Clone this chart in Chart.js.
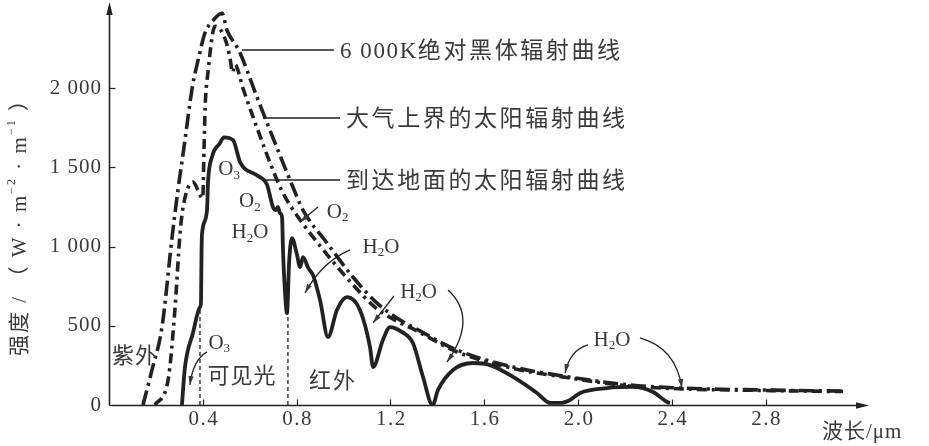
<!DOCTYPE html>
<html><head><meta charset="utf-8">
<script src="https://cdn.jsdelivr.net/npm/chart.js@4"></script>
<style>html,body{margin:0;padding:0;background:#fff}#wrap{width:929px;height:446px}</style>
</head><body><div id="wrap"><canvas id="c" width="929" height="446"></canvas></div>
<script>
// ---------------- data ----------------
const seriesNames = ['6 000K绝对黑体辐射曲线', '大气上界的太阳辐射曲线', '到达地面的太阳辐射曲线'];

const bbWave  = [0.145,0.183,0.226,0.269,0.294,0.324,0.345,0.358,0.380,0.409,0.445,0.482,0.503,0.546,0.559,0.631,0.725,0.802,0.827,0.930,1.040,1.143,1.241,1.296,1.484,1.723,1.936,2.222,2.435,2.776,3.130];
const bbValue = [0,220,492,1060,1356,1672,1905,2030,2177,2347,2430,2473,2366,2259,2222,1944,1591,1313,1231,1022,808,643,536,492,347,240,183,126,107,95,88];

const toaWave  = [0.196,0.252,0.281,0.303,0.316,0.358,0.400,0.405,0.410,0.422,0.452,0.475,0.500,0.516,0.527,0.537,0.571,0.631,0.700,0.742,0.800,0.930,1.040,1.140,1.240,1.300,1.480,1.720,1.940,2.220,2.440,2.780,3.130];
const toaValue = [0,158,600,1085,1250,1407,1306,1609,1880,2100,2390,2370,2290,2190,2100,2150,2000,1750,1480,1338,1200,950,760,610,520,478,338,232,176,120,102,92,85];

const sfcWave  = [0.311,0.324,0.358,0.388,0.392,0.395,0.397,0.418,0.422,0.439,0.473,0.490,0.529,0.560,0.631,0.674,0.699,0.712,0.720,0.729,0.738,0.742,0.750,0.759,0.768,0.780,0.800,0.815,0.827,0.850,0.870,0.900,0.934,0.972,1.015,1.070,1.113,1.126,1.168,1.198,1.250,1.296,1.339,1.380,1.403,1.467,1.552,1.625,1.723,1.825,1.881,1.923,1.966,2.009,2.124,2.235,2.320,2.380,2.392];
const sfcValue = [0,240,454,618,640,1000,1085,1230,1400,1565,1653,1690,1672,1530,1450,1390,1250,1230,1250,1211,1186,978,725,580,900,1054,960,871,934,864,820,662,429,600,681,600,366,240,410,492,460,391,177,0,95,221,265,252,177,76,13,13,32,76,107,114,82,19,13];

const visBoundWave  = [0.388, 0.763];   // 可见光 boundaries
const visBoundValue = [618, 585];

const xTickValues = [0.4, 0.8, 1.2, 1.6, 2.0, 2.4, 2.8];
const yTickValues = [0, 500, 1000, 1500, 2000];
const xMin = 0, xMax = 3.211, yMin = 0, yMax = 2500;

// ---------------- helpers ----------------
const INK = '#222';
const TXT = '#3a3a3a';
const MIX = '"Liberation Serif","Noto Sans CJK SC",serif';
const pts = (xs, ys) => xs.map((v, i) => ({x: v, y: ys[i]}));
const fmtY = v => v >= 1000 ? Math.floor(v/1000) + ' ' + String(v % 1000).padStart(3, '0') : String(v);

function arrowHead(ctx, fx, fy, tx, ty, len, hw) {
  const ang = Math.atan2(ty - fy, tx - fx);
  ctx.beginPath();
  ctx.moveTo(tx, ty);
  ctx.lineTo(tx - len*Math.cos(ang) + hw*Math.sin(ang), ty - len*Math.sin(ang) - hw*Math.cos(ang));
  ctx.lineTo(tx - len*Math.cos(ang) - hw*Math.sin(ang), ty - len*Math.sin(ang) + hw*Math.cos(ang));
  ctx.closePath(); ctx.fill();
}
// segs: [{t, size, dy, ls}]
function drawRich(ctx, segs, x, y, align, ls) {
  let w = 0;
  segs.forEach(s => { ctx.letterSpacing = (s.ls != null ? s.ls : (ls || 0)) + 'px'; ctx.font = s.size + 'px ' + MIX; s.w = ctx.measureText(s.t).width; w += s.w; });
  let cx = align === 'center' ? x - w/2 : (align === 'right' ? x - w : x);
  ctx.textAlign = 'left'; ctx.textBaseline = 'middle';
  segs.forEach(s => { ctx.letterSpacing = (s.ls != null ? s.ls : (ls || 0)) + 'px'; ctx.font = s.size + 'px ' + MIX; ctx.fillText(s.t, cx, y + (s.dy || 0)); cx += s.w; });
  ctx.letterSpacing = '0px';
}
function chem(str) { // "H_2O" -> segments
  const out = [];
  for (let i = 0; i < str.length; i++) {
    if (str[i] === '_') { out.push({t: str[i+1], size: 13, dy: 6}); i++; }
    else out.push({t: str[i], size: 21});
  }
  return out;
}
function labelSegs(name) { // split leading latin/digits from CJK text
  const m = name.match(/^([0-9 A-Za-z]*)(.*)$/);
  const out = [];
  if (m[1]) out.push({t: m[1], size: 23, ls: 1.6});
  out.push({t: m[2], size: 23, ls: 2.6});
  return out;
}

const deco = {
  id: 'deco',
  afterDraw(chart) {
    const {ctx, chartArea: a, scales: {x, y}} = chart;
    const X = v => x.getPixelForValue(v), Y = v => y.getPixelForValue(v);
    ctx.save();
    ctx.strokeStyle = INK; ctx.fillStyle = INK; ctx.lineWidth = 1.6;
    // axes with arrows
    const ax = Math.round(a.left) + 0.5, ay = Math.round(a.bottom) + 0.5;
    ctx.beginPath(); ctx.moveTo(ax, ay); ctx.lineTo(ax, a.top - 2); ctx.stroke();
    arrowHead(ctx, ax, a.top + 10, ax, a.top - 7, 13, 3.2);
    ctx.beginPath(); ctx.moveTo(ax, ay); ctx.lineTo(a.right + 2, ay); ctx.stroke();
    arrowHead(ctx, a.right - 10, ay, a.right + 7, ay, 13, 3.2);
    // ticks
    ctx.lineWidth = 1.2;
    yTickValues.forEach(v => { if (v === 0) return; const py = Math.round(Y(v)) + 0.5; ctx.beginPath(); ctx.moveTo(ax, py); ctx.lineTo(ax + 6, py); ctx.stroke(); });
    xTickValues.forEach(v => { const px = Math.round(X(v)) + 0.5; ctx.beginPath(); ctx.moveTo(px, ay); ctx.lineTo(px, ay - 6); ctx.stroke(); });
    // tick labels
    ctx.fillStyle = TXT;
    yTickValues.forEach(v => drawRich(ctx, [{t: fmtY(v), size: 21}], a.left - 7, Y(v), 'right', 1));
    xTickValues.forEach(v => drawRich(ctx, [{t: v.toFixed(1), size: 21}], X(v) + 1, a.bottom + 14, 'center', 1.5));
    // axis titles
    drawRich(ctx, [{t: '波长/μm', size: 21}], 822, a.bottom + 27, 'left', 1);
    ctx.save(); ctx.translate(20, 222); ctx.rotate(-Math.PI/2);
    drawRich(ctx, [{t: '强度 / （ W · m', size: 21}, {t: '−2', size: 12, dy: -8}, {t: ' · m', size: 21}, {t: '−1', size: 12, dy: -8}, {t: ' ）', size: 21}], 0, 0, 'center', 2);
    ctx.restore();

    // leader lines and series labels
    ctx.strokeStyle = INK; ctx.lineWidth = 1.5;
    const leaders = [[0.567, 0.959, 2241], [0.657, 0.985, 1812], [0.652, 0.985, 1420]];
    leaders.forEach((l, i) => {
      ctx.beginPath(); ctx.moveTo(X(l[0]), Y(l[2])); ctx.lineTo(X(l[1]), Y(l[2])); ctx.stroke();
      drawRich(ctx, labelSegs(seriesNames[i]), X(l[1]) + 6, Y(l[2]) + 2, 'left', 0);
    });

    // region labels
    drawRich(ctx, [{t: '紫外', size: 22}], X(0.111), Y(303), 'center', 1);
    drawRich(ctx, [{t: '可见光', size: 22}], X(0.567), Y(177), 'center', 1);
    drawRich(ctx, [{t: '红外', size: 22}], X(0.955), Y(145), 'center', 2);

    // absorption labels
    const chems = [['O_3', 0.512, 1484], ['O_2', 0.601, 1282], ['H_2O', 0.601, 1086], ['O_2', 0.975, 1218],
                   ['H_2O', 1.16, 997], ['H_2O', 1.32, 713], ['H_2O', 2.145, 410], ['O_3', 0.47, 391]];
    chems.forEach(c => drawRich(ctx, chem(c[0]), X(c[1]), Y(c[2]), 'center', 0));

    // arrows (straight / quadratic), in data units
    ctx.lineWidth = 1.3;
    const arrows = [
      [[0.891, 1250], null, [0.815, 1155]],
      [[1.028, 979], [0.908, 903], [0.836, 707]],
      [[1.215, 688], null, [1.126, 518]],
      [[1.446, 726], [1.575, 549], [1.441, 271]],
      [[2.043, 379], [1.966, 347], [1.945, 202]],
      [[2.264, 423], [2.418, 360], [2.443, 107]],
      [[0.418, 335], [0.358, 284], [0.345, 126]]
    ];
    arrows.forEach(([s, c, e]) => {
      ctx.beginPath(); ctx.moveTo(X(s[0]), Y(s[1]));
      if (c) ctx.quadraticCurveTo(X(c[0]), Y(c[1]), X(e[0]), Y(e[1])); else ctx.lineTo(X(e[0]), Y(e[1]));
      ctx.stroke();
      const f = c || s;
      arrowHead(ctx, X(f[0]), Y(f[1]), X(e[0]), Y(e[1]), 9, 2.6);
    });
    ctx.restore();
  }
};

new Chart(document.getElementById('c'), {
  type: 'line',
  data: {
    datasets: [
      {label: seriesNames[0], data: pts(bbWave, bbValue), borderColor: INK, borderWidth: 3.6, borderDash: [15, 5, 3, 5], cubicInterpolationMode: 'monotone', pointRadius: 0, fill: false},
      {label: seriesNames[1], data: pts(toaWave, toaValue), borderColor: INK, borderWidth: 3.6, borderDash: [10, 5, 3, 5], cubicInterpolationMode: 'monotone', pointRadius: 0, fill: false},
      {label: seriesNames[2], data: pts(sfcWave, sfcValue), borderColor: INK, borderWidth: 3.8, cubicInterpolationMode: 'monotone', pointRadius: 0, fill: false},
      {label: 'b1', data: [{x: visBoundWave[0], y: 0}, {x: visBoundWave[0], y: visBoundValue[0]}], borderColor: INK, borderWidth: 1.3, borderDash: [4, 3], pointRadius: 0},
      {label: 'b2', data: [{x: visBoundWave[1], y: 0}, {x: visBoundWave[1], y: visBoundValue[1]}], borderColor: INK, borderWidth: 1.3, borderDash: [4, 3], pointRadius: 0}
    ]
  },
  options: {
    responsive: false, animation: false, devicePixelRatio: 1,
    layout: {padding: {left: 109, right: 67, top: 9, bottom: 41}},
    plugins: {legend: {display: false}, tooltip: {enabled: false}},
    scales: {
      x: {type: 'linear', min: xMin, max: xMax, display: false},
      y: {type: 'linear', min: yMin, max: yMax, display: false}
    }
  },
  plugins: [deco]
});
</script></body></html>
